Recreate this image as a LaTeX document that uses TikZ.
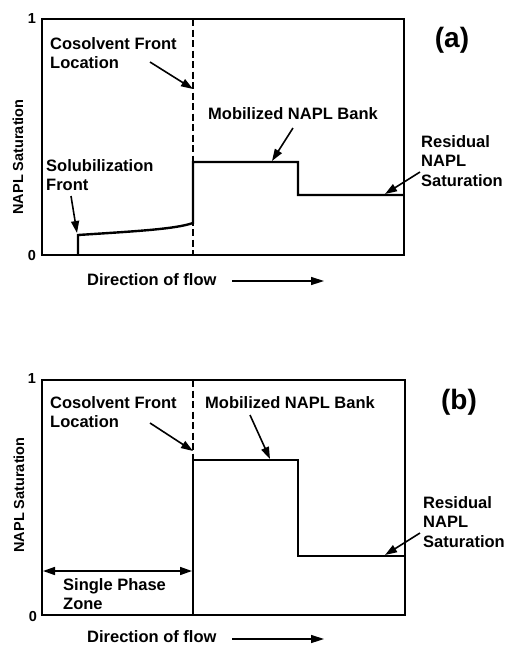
\documentclass[tikz,border=0pt]{standalone}
\usepackage{fontspec}
\setmainfont{Liberation Sans}
\usetikzlibrary{arrows.meta}
\begin{document}
\begin{tikzpicture}[x=1pt,y=-1pt,
  lbl/.style={inner sep=0pt, anchor=north west, align=left, font=\bfseries\fontsize{16.5}{19.5}\selectfont},
  tick/.style={inner sep=0pt, font=\bfseries\fontsize{14.5}{16}\selectfont},
  ylab/.style={inner sep=0pt, rotate=90, font=\bfseries\fontsize{14.5}{16}\selectfont},
  tag/.style={inner sep=0pt, font=\bfseries\fontsize{28}{32}\selectfont},
  frame/.style={line width=1.6pt},
  curve/.style={line width=2.4pt},
  front/.style={line width=1.3pt, dash pattern=on 7pt off 3.5pt},
  conn/.style={line width=1.6pt, -{Triangle[length=12pt,width=8pt]}},
  flow/.style={line width=1.5pt, -{Triangle[length=13pt,width=8pt]}},
  both/.style={line width=1.6pt, {Triangle[length=12pt,width=8pt]}-{Triangle[length=12pt,width=8pt]}}]
\useasboundingbox (0,0) rectangle (506,646);

% ================= panel (a) =================
\draw[frame] (42,19) rectangle (404,255);
\node[tick] (a1) at (32,19) {1};
\node[tick] (a0) at (32,256) {0};
\node[ylab] (ay) at (18,157) {NAPL Saturation};
\node[tag] (atag) at (452,40) {(a)};

\draw[front] (193,19) -- (193,255);
\draw[curve] (78,255) -- (78,235) .. controls (140,231) and (175,229) .. (193,223)
  -- (193,162) -- (298,162) -- (298,195) -- (404,195);

\node[lbl] (acos) at (50,37) {Cosolvent Front\\Location};
\node[lbl] (amob) at (208,107) {Mobilized NAPL Bank};
\node[lbl] (asol) at (46,159) {Solubilization\\Front};
\node[lbl] (ares) at (421,135) {Residual\\NAPL\\Saturation};
\node[lbl] (adir) at (87,273) {Direction of flow};

\coordinate (acosS) at (150,62);   \coordinate (acosT) at (193,89);
\coordinate (amobS) at (293,128);  \coordinate (amobT) at (272,161);
\coordinate (asolS) at (71,196);   \coordinate (asolT) at (77,233);
\coordinate (aresS) at (420,172);  \coordinate (aresT) at (385,194);
\coordinate (adirS) at (232,281);  \coordinate (adirT) at (324,281);
\draw[conn] (acosS) -- (acosT);
\draw[conn] (amobS) -- (amobT);
\draw[conn] (asolS) -- (asolT);
\draw[conn] (aresS) -- (aresT);
\draw[flow] (adirS) -- (adirT);

% ================= panel (b) =================
\draw[frame] (42,380) rectangle (405,615);
\node[tick] (b1) at (32,379) {1};
\node[tick] (b0) at (33,617) {0};
\node[ylab] (by) at (19,495) {NAPL Saturation};
\node[tag] (btag) at (459,402) {(b)};

\draw[front] (193,380) -- (193,460);
\draw[curve] (193,615) -- (193,460) -- (298,460) -- (298,556) -- (405,556);

\node[lbl] (bcos) at (50,396) {Cosolvent Front\\Location};
\node[lbl] (bmob) at (205,396) {Mobilized NAPL Bank};
\node[lbl] (bres) at (423,496) {Residual\\NAPL\\Saturation};
\node[lbl] (bsin) at (63,578) {Single Phase\\Zone};
\node[lbl] (bdir) at (87,630) {Direction of flow};

\coordinate (bcosS) at (150,423);  \coordinate (bcosT) at (193,451);
\coordinate (bmobS) at (250,415);  \coordinate (bmobT) at (270,459);
\coordinate (bresS) at (420,533);  \coordinate (bresT) at (385,555);
\coordinate (bzL) at (43,571);     \coordinate (bzR) at (192,571);
\coordinate (bdirS) at (232,639);  \coordinate (bdirT) at (324,639);
\draw[conn] (bcosS) -- (bcosT);
\draw[conn] (bmobS) -- (bmobT);
\draw[conn] (bresS) -- (bresT);
\draw[both] (bzL) -- (bzR);
\draw[flow] (bdirS) -- (bdirT);
\end{tikzpicture}
\end{document}
